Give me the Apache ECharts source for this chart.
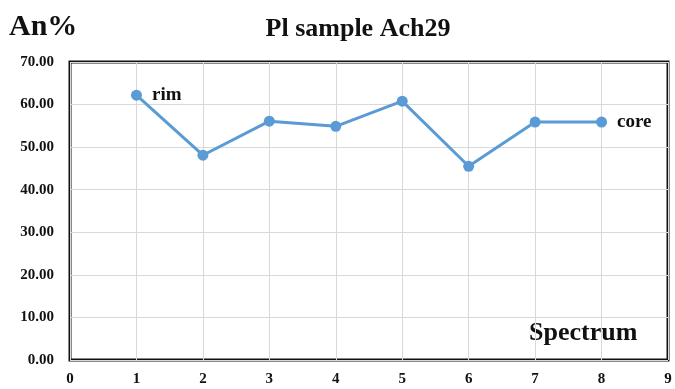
<!DOCTYPE html>
<html><head><meta charset="utf-8">
<script src="https://cdn.jsdelivr.net/npm/echarts@6/dist/echarts.min.js"></script>
<style>html,body{margin:0;padding:0;background:#fff}#c{width:675px;height:389px}</style>
</head><body><div id="c"></div>
<script>
const spectrum = [1, 2, 3, 4, 5, 6, 7, 8];
const anPercent = [62.2, 48.1, 56.1, 54.9, 60.8, 45.5, 55.9, 55.9];
const pointLabels = ['rim', '', '', '', '', '', '', 'core'];
const titleText = 'Pl sample Ach29';
const yName = 'An%';
const xName = 'Spectrum';

const font = '"Liberation Serif", "Times New Roman", serif';
const chart = echarts.init(document.getElementById('c'));
chart.setOption({
  animation: false,
  title: {text: titleText, left: 353, top: 11, textAlign: 'center',
    textStyle: {fontFamily: font, fontWeight: 'bold', fontSize: 26, color: '#111'}},
  graphic: [
    {type: 'text', left: 9, top: 12, style: {text: yName, fontFamily: font, fontWeight: 'bold', fontSize: 30, fill: '#111'}},
    {type: 'text', left: 529, top: 320, style: {text: xName, fontFamily: font, fontWeight: 'bold', fontSize: 26, fill: '#111'}}
  ],
  grid: {left: 70, right: 7, top: 62, bottom: 29, show: true, borderColor: '#111', borderWidth: 3, backgroundColor: '#fff'},
  xAxis: {type: 'value', min: 0, max: 9, interval: 1,
    axisLine: {show: false}, axisTick: {show: false},
    splitLine: {show: true, lineStyle: {color: '#d9d9d9', width: 1}},
    axisLabel: {margin: 12, fontFamily: font, fontWeight: 'bold', fontSize: 15, color: '#111'}},
  yAxis: {type: 'value', min: 0, max: 70, interval: 10,
    axisLine: {show: false}, axisTick: {show: false},
    splitLine: {show: true, lineStyle: {color: '#d9d9d9', width: 1}},
    axisLabel: {margin: 16, fontFamily: font, fontWeight: 'bold', fontSize: 15, color: '#111',
      formatter: v => v.toFixed(2)}},
  series: [{
    type: 'line', data: spectrum.map((x, i) => [x, anPercent[i]]),
    symbol: 'circle', symbolSize: 11,
    lineStyle: {color: '#5b9bd5', width: 3},
    itemStyle: {color: '#5b9bd5'},
    label: {show: true, position: 'right', distance: 10, fontFamily: font, fontWeight: 'bold', fontSize: 19, color: '#111',
      formatter: p => pointLabels[p.dataIndex]}
  }]
});
</script></body></html>
